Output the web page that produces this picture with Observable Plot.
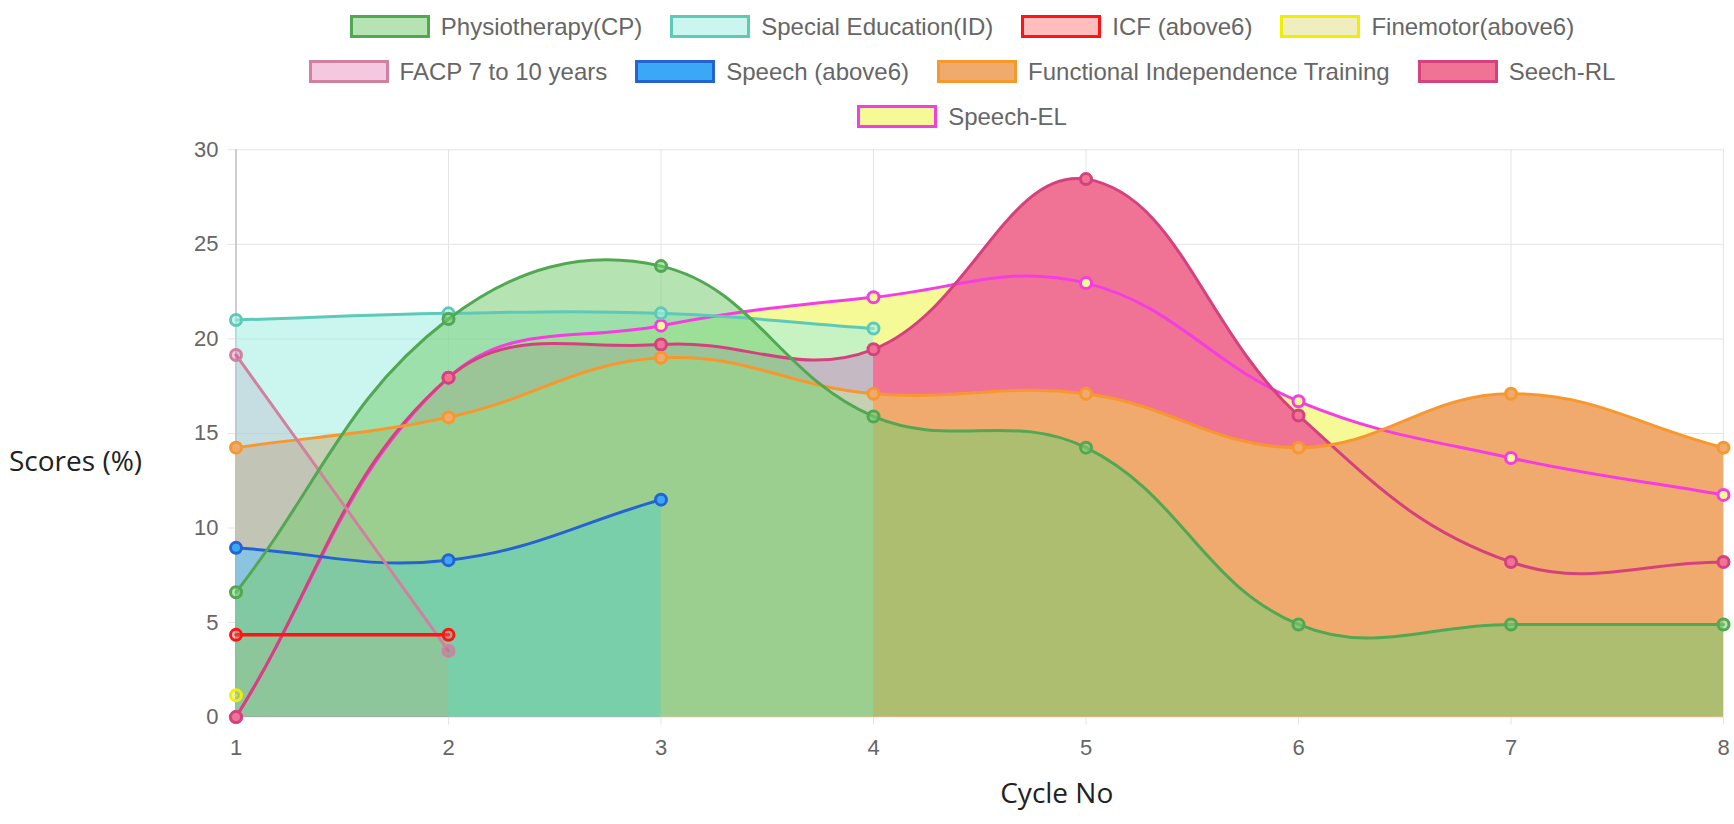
<!DOCTYPE html>
<html>
<head>
<meta charset="utf-8">
<script src="https://cdn.jsdelivr.net/npm/d3@7"></script>
<script src="https://cdn.jsdelivr.net/npm/@observablehq/plot@0.6"></script>
<style>
  html, body { margin: 0; padding: 0; background: #fff; overflow: hidden; }
  #legend { position: relative; z-index: 2; height: 125px; box-sizing: border-box; padding-top: 4px; }
  #legend .inner { width: 1400px; margin-left: 262px; display: flex; flex-wrap: wrap; justify-content: center; column-gap: 28px; }
  .item { display: flex; align-items: center; height: 45px; font-family: "Liberation Sans", Arial, sans-serif; font-size: 24px; color: #666; white-space: nowrap; }
  .swatch { width: 80px; height: 23px; box-sizing: border-box; border: 3px solid; margin-right: 11px; }
  #chart svg { display: block; }
</style>
</head>
<body>
<div id="legend"><div class="inner"></div></div>
<div id="chart"></div>
<script>
// ---------------- data ----------------
const cycles = [1, 2, 3, 4, 5, 6, 7, 8];
const yTicks = [0, 5, 10, 15, 20, 25, 30];

const seriesNames = [
  "Physiotherapy(CP)", "Special Education(ID)", "ICF (above6)", "Finemotor(above6)",
  "FACP 7 to 10 years", "Speech (above6)", "Functional Independence Training", "Seech-RL", "Speech-EL"
];

const physiotherapy = [6.6, 21.05, 23.85, 15.9, 14.25, 4.9, 4.9, 4.9];
const specialEducation = [21.0, 21.35, 21.35, 20.55];
const icf = [4.35, 4.35];
const finemotor = [1.15];
const facp = [19.15, 3.5];
const speech = [8.95, 8.3, 11.5];
const functionalIndependence = [14.25, 15.85, 19.0, 17.1, 17.1, 14.25, 17.1, 14.25];
const seechRL = [0, 17.95, 19.7, 19.45, 28.45, 15.95, 8.2, 8.2];
const speechEL = [0, 17.95, 20.7, 22.2, 22.95, 16.7, 13.7, 11.75];

const seriesValues = [physiotherapy, specialEducation, icf, finemotor, facp, speech, functionalIndependence, seechRL, speechEL];

// ---------------- styles ----------------
const lineColors = ["#52a852", "#5ec9b9", "#ff1414", "#f2ee00", "#d2809f", "#2563d3", "#f7982f", "#d4427e", "#f43ee2"];
const fillColors = ["rgb(120,205,115)", "rgb(165,238,228)", "rgb(255,90,90)", "rgb(205,205,70)", "rgb(215,60,140)", "rgb(58,168,244)", "rgb(240,170,110)", "rgb(240,115,150)", "rgb(245,250,150)"];
const fillOpacities = [0.55, 0.58, 0.4, 0.35, 0.28, 1, 1, 1, 1];
const lineWidths = [3, 3, 3.5, 3, 3, 3, 3, 3, 3];

// ---------------- legend ----------------
const inner = document.querySelector("#legend .inner");
seriesNames.forEach((name, i) => {
  const item = document.createElement("div");
  item.className = "item";
  const sw = document.createElement("span");
  sw.className = "swatch";
  sw.style.borderColor = lineColors[i];
  sw.style.background = fillColors[i].replace("rgb(", "rgba(").replace(")", "," + fillOpacities[i] + ")");
  const label = document.createElement("span");
  label.textContent = name;
  item.appendChild(sw);
  item.appendChild(label);
  inner.appendChild(item);
});

// ---------------- Chart.js-like spline curve ----------------
const TENSION = 0.4;
function ChartJsCurve(context) { this._context = context; }
ChartJsCurve.prototype = {
  areaStart() { this._line = 0; },
  areaEnd() { this._line = NaN; },
  lineStart() { this._pts = []; },
  point(x, y) { this._pts.push([+x, +y]); },
  lineEnd() {
    const p = this._pts, n = p.length, ctx = this._context;
    if (n) {
      if (this._line) ctx.lineTo(p[0][0], p[0][1]); else ctx.moveTo(p[0][0], p[0][1]);
      if (n === 2) ctx.lineTo(p[1][0], p[1][1]);
      else if (n > 2) {
        const cps = p.map((cur, i) => {
          const prev = p[Math.max(0, i - 1)], next = p[Math.min(n - 1, i + 1)];
          const d01 = Math.hypot(cur[0] - prev[0], cur[1] - prev[1]);
          const d12 = Math.hypot(next[0] - cur[0], next[1] - cur[1]);
          let s01 = d01 / (d01 + d12), s12 = d12 / (d01 + d12);
          if (!isFinite(s01)) s01 = 0;
          if (!isFinite(s12)) s12 = 0;
          const fa = TENSION * s01, fb = TENSION * s12;
          const dx = next[0] - prev[0], dy = next[1] - prev[1];
          return {
            prev: [cur[0] - fa * dx, cur[1] - fa * dy],
            next: [cur[0] + fb * dx, cur[1] + fb * dy]
          };
        });
        for (let i = 1; i < n; i++) {
          ctx.bezierCurveTo(cps[i - 1].next[0], cps[i - 1].next[1], cps[i].prev[0], cps[i].prev[1], p[i][0], p[i][1]);
        }
      }
    }
    if (this._line || (this._line !== 0 && n === 1)) ctx.closePath();
    this._line = 1 - this._line;
  }
};
const chartCurve = (context) => new ChartJsCurve(context);

// ---------------- build ----------------
const seriesData = seriesValues.map((vals, s) => vals.map((v, i) => ({x: cycles[i], y: v, s})));
const drawOrder = d3.range(seriesNames.length).reverse(); // last dataset at bottom

const fills = drawOrder.map(i => Plot.areaY(seriesData[i], {
  x: "x", y: "y", curve: chartCurve, fill: fillColors[i], fillOpacity: fillOpacities[i]
}));
const lines = drawOrder.flatMap(i => [
  Plot.line(seriesData[i], {x: "x", y: "y", curve: chartCurve, stroke: lineColors[i], strokeWidth: lineWidths[i]}),
  Plot.dot(seriesData[i], {x: "x", y: "y", r: 5.5, stroke: lineColors[i], strokeWidth: 3, fill: fillColors[i], fillOpacity: fillOpacities[i]})
]);

const tickFont = "'Liberation Sans', Arial, sans-serif";

const chart = Plot.plot({
  width: 1734,
  height: 699,
  marginTop: 24.3,
  marginBottom: 107.4,
  marginLeft: 235.5,
  marginRight: 11,
  style: {background: "transparent", overflow: "visible"},
  x: {domain: [1, 8], ticks: cycles},
  y: {domain: [0, 30], ticks: yTicks},
  marks: [
    Plot.gridX(cycles, {stroke: "#e4e4e4", strokeOpacity: 1}),
    Plot.gridY(yTicks, {stroke: "#e4e4e4", strokeOpacity: 1}),
    Plot.axisX(cycles, {tickSize: 8, tickPadding: 14, stroke: "#e4e4e4", fill: "#666", fontSize: 22, fontFamily: tickFont, label: null, tickFormat: d => String(d)}),
    Plot.axisY(yTicks, {tickSize: 8, tickPadding: 9.5, stroke: "#e4e4e4", fill: "#666", fontSize: 22, fontFamily: tickFont, label: null, tickFormat: d => String(d)}),
    Plot.ruleX([1], {stroke: "#a8a8a8"}),
    ...fills,
    ...lines,
    Plot.text(["Scores (%)"], {text: d => d, frameAnchor: "left", textAnchor: "start", dx: -227, dy: 29, fontSize: 28, fontFamily: "'Open Sans', sans-serif", fill: "#222"}),
    Plot.text(["Cycle No"], {text: d => d, frameAnchor: "bottom", dx: 77, dy: 85.5, fontSize: 28, fontFamily: "'Open Sans', sans-serif", fill: "#222"})
  ]
});
document.getElementById("chart").appendChild(chart);
</script>
</body>
</html>
